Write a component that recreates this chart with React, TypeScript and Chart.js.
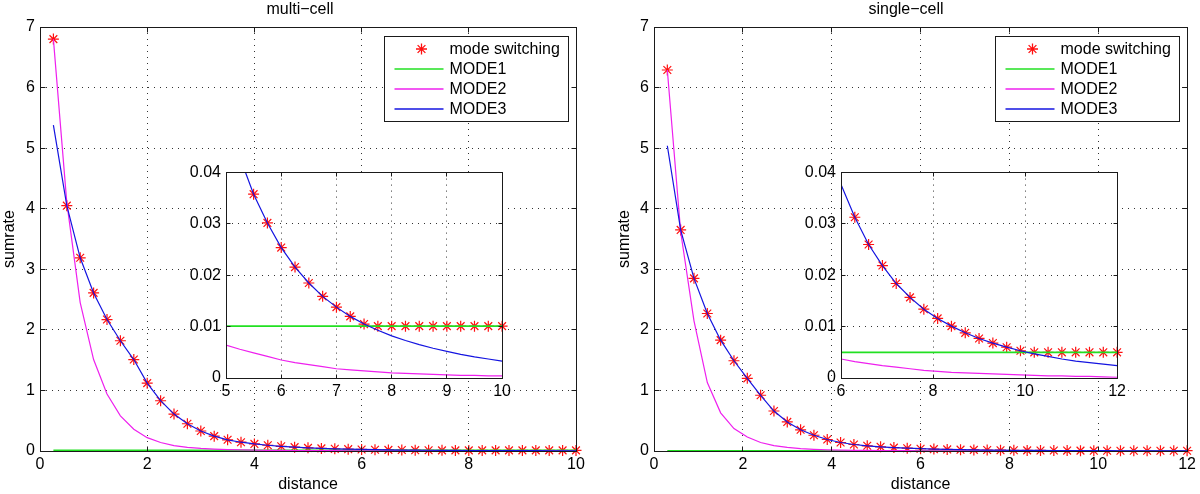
import React, { useEffect, useRef } from 'react';
import { Chart, registerables } from 'chart.js';

Chart.register(...registerables);
Chart.defaults.font.family = '"Liberation Sans", Arial, Helvetica, sans-serif';
Chart.defaults.font.size = 16;
Chart.defaults.color = '#000';

// ---------------- multi-cell ----------------
const multiX = [0.25, 0.5, 0.75, 1, 1.25, 1.5, 1.75, 2, 2.25, 2.5, 2.75, 3, 3.25, 3.5, 3.75, 4, 4.25, 4.5, 4.75, 5, 5.25, 5.5, 5.75, 6, 6.25, 6.5, 6.75, 7, 7.25, 7.5, 7.75, 8, 8.25, 8.5, 8.75, 9, 9.25, 9.5, 9.75, 10];
const multiSwitching = [6.8, 4.05, 3.19, 2.61, 2.17, 1.82, 1.51, 1.12, 0.83, 0.61, 0.45, 0.33, 0.245, 0.185, 0.145, 0.117, 0.095, 0.077, 0.063, 0.052, 0.043, 0.0358, 0.0302, 0.0254, 0.0216, 0.0185, 0.0159, 0.0138, 0.012, 0.0105, 0.0101, 0.0101, 0.0101, 0.0101, 0.0101, 0.0101, 0.0101, 0.0101, 0.0101, 0.0101];
const multiMode1 = [0.0101, 0.0101, 0.0101, 0.0101, 0.0101, 0.0101, 0.0101, 0.0101, 0.0101, 0.0101, 0.0101, 0.0101, 0.0101, 0.0101, 0.0101, 0.0101, 0.0101, 0.0101, 0.0101, 0.0101, 0.0101, 0.0101, 0.0101, 0.0101, 0.0101, 0.0101, 0.0101, 0.0101, 0.0101, 0.0101, 0.0101, 0.0101, 0.0101, 0.0101, 0.0101, 0.0101, 0.0101, 0.0101, 0.0101, 0.0101];
const multiMode2 = [6.8, 4.1, 2.45, 1.51, 0.94, 0.58, 0.36, 0.22, 0.14, 0.09, 0.06, 0.042, 0.03, 0.022, 0.017, 0.0135, 0.011, 0.009, 0.0076, 0.0064, 0.0056, 0.0049, 0.0042, 0.0035, 0.003, 0.0026, 0.0022, 0.0018, 0.0016, 0.0014, 0.0012, 0.001, 0.0009, 0.0008, 0.0007, 0.0006, 0.0005, 0.0005, 0.0004, 0.0004];
const multiMode3 = [5.38, 4.05, 3.19, 2.61, 2.17, 1.82, 1.51, 1.12, 0.83, 0.61, 0.45, 0.33, 0.245, 0.185, 0.145, 0.117, 0.095, 0.077, 0.063, 0.052, 0.043, 0.0358, 0.0302, 0.0254, 0.0216, 0.0185, 0.0159, 0.0138, 0.012, 0.0105, 0.0093, 0.0082, 0.0073, 0.0065, 0.0058, 0.0052, 0.0046, 0.0041, 0.0037, 0.0033];

// ---------------- single-cell ----------------
const singleX = [0.3, 0.6, 0.9, 1.2, 1.5, 1.8, 2.1, 2.4, 2.7, 3, 3.3, 3.6, 3.9, 4.2, 4.5, 4.8, 5.1, 5.4, 5.7, 6, 6.3, 6.6, 6.9, 7.2, 7.5, 7.8, 8.1, 8.4, 8.7, 9, 9.3, 9.6, 9.9, 10.2, 10.5, 10.8, 11.1, 11.4, 11.7, 12];
const singleSwitching = [6.29, 3.65, 2.85, 2.27, 1.83, 1.49, 1.2, 0.92, 0.66, 0.48, 0.35, 0.26, 0.19, 0.14, 0.107, 0.086, 0.069, 0.056, 0.046, 0.0377, 0.0313, 0.026, 0.0219, 0.0184, 0.0157, 0.0134, 0.0116, 0.0101, 0.0088, 0.0077, 0.0068, 0.006, 0.0053, 0.005, 0.005, 0.005, 0.005, 0.005, 0.005, 0.005];
const singleMode1 = [0.005, 0.005, 0.005, 0.005, 0.005, 0.005, 0.005, 0.005, 0.005, 0.005, 0.005, 0.005, 0.005, 0.005, 0.005, 0.005, 0.005, 0.005, 0.005, 0.005, 0.005, 0.005, 0.005, 0.005, 0.005, 0.005, 0.005, 0.005, 0.005, 0.005, 0.005, 0.005, 0.005, 0.005, 0.005, 0.005, 0.005, 0.005, 0.005, 0.005];
const singleMode2 = [6.29, 3.62, 2.15, 1.13, 0.63, 0.37, 0.23, 0.14, 0.09, 0.06, 0.04, 0.028, 0.02, 0.015, 0.0115, 0.009, 0.0071, 0.0057, 0.0046, 0.0037, 0.0032, 0.0028, 0.0024, 0.0021, 0.0018, 0.0015, 0.0013, 0.0011, 0.001, 0.0009, 0.0008, 0.0007, 0.0006, 0.0005, 0.0004, 0.0004, 0.0003, 0.0003, 0.0002, 0.00015];
const singleMode3 = [5.04, 3.65, 2.85, 2.27, 1.83, 1.49, 1.2, 0.92, 0.66, 0.48, 0.35, 0.26, 0.19, 0.14, 0.107, 0.086, 0.069, 0.056, 0.046, 0.0377, 0.0313, 0.026, 0.0219, 0.0184, 0.0157, 0.0134, 0.0116, 0.0101, 0.0088, 0.0077, 0.0068, 0.006, 0.0053, 0.0047, 0.0042, 0.0037, 0.0033, 0.003, 0.0027, 0.0024];

const seriesLabels = ['mode switching', 'MODE1', 'MODE2', 'MODE3'];
const multiTitle = 'multi−cell';
const singleTitle = 'single−cell';
const xTitle = 'distance';
const yTitle = 'sumrate';

const RED = '#ff1010';
const GREEN = '#22e022';
const MAGENTA = '#ee20ee';
const BLUE = '#1414e0';
const GRID = 'rgba(0,0,0,0.8)';
const FRAME = '#1a1a1a';
const FONT = '"Liberation Sans", Arial, Helvetica, sans-serif';

const al = (p: number) => Math.round(p - 0.5) + 0.5;

const framePlugin = {
  id: 'matlabFrame',
  beforeDraw(chart: any, _a: any, opts: any) {
    if (!opts || !opts.whiteArea) return;
    const { ctx, chartArea: a } = chart;
    ctx.save();
    ctx.fillStyle = '#fff';
    ctx.fillRect(a.left, a.top, a.right - a.left, a.bottom - a.top);
    ctx.restore();
  },
  afterDatasetsDraw(chart: any, _a: any, opts: any) {
    const { ctx, chartArea: a } = chart;
    const xs = chart.scales.x;
    const ys = chart.scales.y;
    const len = (opts && opts.tickLen) || 5;
    const L = al(a.left), R = al(a.right), T = al(a.top), B = al(a.bottom);
    ctx.save();
    ctx.strokeStyle = FRAME;
    ctx.lineWidth = 1;
    ctx.beginPath();
    for (const t of xs.ticks) {
      const p = al(xs.getPixelForValue(t.value));
      ctx.moveTo(p, B); ctx.lineTo(p, B - len);
      ctx.moveTo(p, T); ctx.lineTo(p, T + len);
    }
    for (const t of ys.ticks) {
      const p = al(ys.getPixelForValue(t.value));
      ctx.moveTo(L, p); ctx.lineTo(L + len, p);
      ctx.moveTo(R, p); ctx.lineTo(R - len, p);
    }
    ctx.stroke();
    ctx.strokeRect(L, T, R - L, B - T);
    ctx.restore();
  },
};

const legendPlugin = {
  id: 'matlabLegend',
  afterDraw(chart: any, _a: any, opts: any) {
    if (!opts || !opts.show) return;
    const { ctx, chartArea: a } = chart;
    const w = 184, h = 85;
    const x0 = Math.round(a.right - 8 - w) + 0.5;
    const y0 = Math.round(a.top + 9) + 0.5;
    ctx.save();
    ctx.fillStyle = '#fff';
    ctx.fillRect(x0, y0, w, h);
    ctx.strokeStyle = FRAME;
    ctx.lineWidth = 1;
    ctx.strokeRect(x0, y0, w, h);
    ctx.font = '16px ' + FONT;
    ctx.textBaseline = 'middle';
    ctx.textAlign = 'left';
    const ds = chart.data.datasets;
    const colors = [RED, GREEN, MAGENTA, BLUE];
    ds.forEach((d: any, i: number) => {
      const cy = y0 + 12.5 + i * 20;
      const col = colors[i];
      if (i === 0) {
        const cx = x0 + 37, r = 5.5;
        ctx.strokeStyle = col;
        ctx.lineWidth = 1.3;
        ctx.beginPath();
        ctx.moveTo(cx - r, cy); ctx.lineTo(cx + r, cy);
        ctx.moveTo(cx, cy - r); ctx.lineTo(cx, cy + r);
        const q = r * Math.SQRT1_2;
        ctx.moveTo(cx - q, cy - q); ctx.lineTo(cx + q, cy + q);
        ctx.moveTo(cx - q, cy + q); ctx.lineTo(cx + q, cy - q);
        ctx.stroke();
      } else {
        ctx.strokeStyle = col;
        ctx.lineWidth = 1.5;
        ctx.beginPath();
        ctx.moveTo(x0 + 10, Math.round(cy));
        ctx.lineTo(x0 + 59, Math.round(cy));
        ctx.stroke();
      }
      ctx.fillStyle = '#000';
      ctx.fillText(d.label, x0 + 65, cy + 1);
    });
    ctx.restore();
  },
};

type Series = { xs: number[]; sw: number[]; m1: number[]; m2: number[]; m3: number[] };

function datasets(s: Series, inset: boolean) {
  const pts = (ys: number[]) => s.xs.map((x, i) => ({ x, y: ys[i] }));
  const line = (label: string, ys: number[], color: string, order: number, width: number) => ({
    label,
    data: pts(ys),
    showLine: true,
    borderColor: color,
    backgroundColor: color,
    borderWidth: width,
    pointRadius: 0,
    order,
    xAxisID: 'x',
    yAxisID: 'y',
  });
  return [
    {
      label: seriesLabels[0],
      data: pts(s.sw),
      showLine: false,
      pointStyle: 'star',
      pointRadius: 5.5,
      pointBorderWidth: 1.2,
      borderColor: RED,
      backgroundColor: RED,
      pointBorderColor: RED,
      order: 4,
      // markers centred outside the inset limits are hidden (as in the original)
      clip: inset ? { left: -6, right: 8, top: 0, bottom: 8 } : false,
      xAxisID: 'x',
      yAxisID: 'y',
    },
    line(seriesLabels[1], s.m1, GREEN, 3, 1.6),
    line(seriesLabels[2], s.m2, MAGENTA, 2, 1.2),
    line(seriesLabels[3], s.m3, BLUE, 1, 1.2),
  ];
}

type Geo = { leftW: number; rightW: number; topH: number; bottomH: number; yTitlePad: number };

function makeConfig(
  s: Series,
  inset: boolean,
  xr: [number, number, number],
  yr: [number, number, number],
  title: string,
  g: Geo,
): any {
  const gridOpts = { color: GRID, lineWidth: 1, drawTicks: false };
  const borderOpts = { display: false, dash: [1, 5] };
  const scales: any = {
    x: {
      type: 'linear',
      position: 'bottom',
      min: xr[0],
      max: xr[1],
      ticks: { stepSize: xr[2], padding: 4, maxRotation: 0, autoSkip: false, color: '#000', font: { size: 16 } },
      grid: gridOpts,
      border: borderOpts,
      title: inset
        ? { display: false }
        : { display: true, text: xTitle, color: '#000', font: { size: 16 }, padding: { top: 0, bottom: 0 } },
      afterFit: (sc: any) => { sc.height = g.bottomH; },
    },
    y: {
      type: 'linear',
      position: 'left',
      min: yr[0],
      max: yr[1],
      ticks: { stepSize: yr[2], padding: 5, color: '#000', font: { size: 16 } },
      grid: gridOpts,
      border: borderOpts,
      title: inset
        ? { display: false }
        : { display: true, text: yTitle, color: '#000', font: { size: 16 }, padding: { top: g.yTitlePad, bottom: 0 } },
      afterFit: (sc: any) => { sc.width = g.leftW; },
    },
    y2: {
      type: 'linear',
      position: 'right',
      min: 0,
      max: 1,
      ticks: { display: false },
      grid: { display: false, drawTicks: false },
      border: { display: false },
      afterFit: (sc: any) => { sc.width = g.rightW; },
    },
  };
  if (inset) {
    scales.x2 = {
      type: 'linear',
      position: 'top',
      min: 0,
      max: 1,
      ticks: { display: false },
      grid: { display: false, drawTicks: false },
      border: { display: false },
      afterFit: (sc: any) => { sc.height = g.topH; },
    };
  }
  return {
    type: 'scatter',
    data: { datasets: datasets(s, inset) },
    plugins: [framePlugin, legendPlugin],
    options: {
      responsive: false,
      maintainAspectRatio: false,
      animation: false,
      events: [],
      layout: { padding: 0 },
      scales,
      plugins: {
        legend: { display: false },
        tooltip: { enabled: false },
        title: inset
          ? { display: false }
          : { display: true, text: title, color: '#000', font: { size: 16, weight: 'normal' }, padding: { top: 0, bottom: 7.8 } },
        matlabFrame: { whiteArea: inset, tickLen: inset ? 4 : 5 },
        matlabLegend: { show: !inset },
      },
    },
  };
}

function ChartBox(props: { left: number; top: number; width: number; height: number; build: () => any }) {
  const ref = useRef<HTMLCanvasElement>(null);
  useEffect(() => {
    const chart = new Chart(ref.current as HTMLCanvasElement, props.build());
    return () => chart.destroy();
  }, []);
  return (
    <canvas
      ref={ref}
      width={props.width}
      height={props.height}
      style={{ position: 'absolute', left: props.left, top: props.top, width: props.width, height: props.height }}
    />
  );
}

const multi: Series = { xs: multiX, sw: multiSwitching, m1: multiMode1, m2: multiMode2, m3: multiMode3 };
const single: Series = { xs: singleX, sw: singleSwitching, m1: singleMode1, m2: singleMode2, m3: singleMode3 };

export default function App() {
  useEffect(() => {
    document.body.style.margin = '0';
  }, []);
  return (
    <div style={{ position: 'absolute', left: 0, top: 0, width: 1200, height: 494, background: '#fff', overflow: 'hidden' }}>
      <ChartBox
        left={0}
        top={0}
        width={600}
        height={494}
        build={() => makeConfig(multi, false, [0, 10, 2], [0, 7, 1], multiTitle, { leftW: 40, rightW: 24, topH: 0, bottomH: 43, yTitlePad: 0 })}
      />
      <ChartBox
        left={612}
        top={0}
        width={588}
        height={494}
        build={() => makeConfig(single, false, [0, 12, 2], [0, 7, 1], singleTitle, { leftW: 42, rightW: 9, topH: 0, bottomH: 43, yTitlePad: 3 })}
      />
      <ChartBox
        left={186}
        top={158}
        width={329}
        height={250}
        build={() => makeConfig(multi, true, [5, 10, 1], [0, 0.04, 0.01], '', { leftW: 40, rightW: 12, topH: 12, bottomH: 30, yTitlePad: 0 })}
      />
      <ChartBox
        left={801}
        top={158}
        width={329}
        height={250}
        build={() => makeConfig(single, true, [6, 12, 2], [0, 0.04, 0.01], '', { leftW: 40, rightW: 12, topH: 12, bottomH: 30, yTitlePad: 0 })}
      />
    </div>
  );
}
